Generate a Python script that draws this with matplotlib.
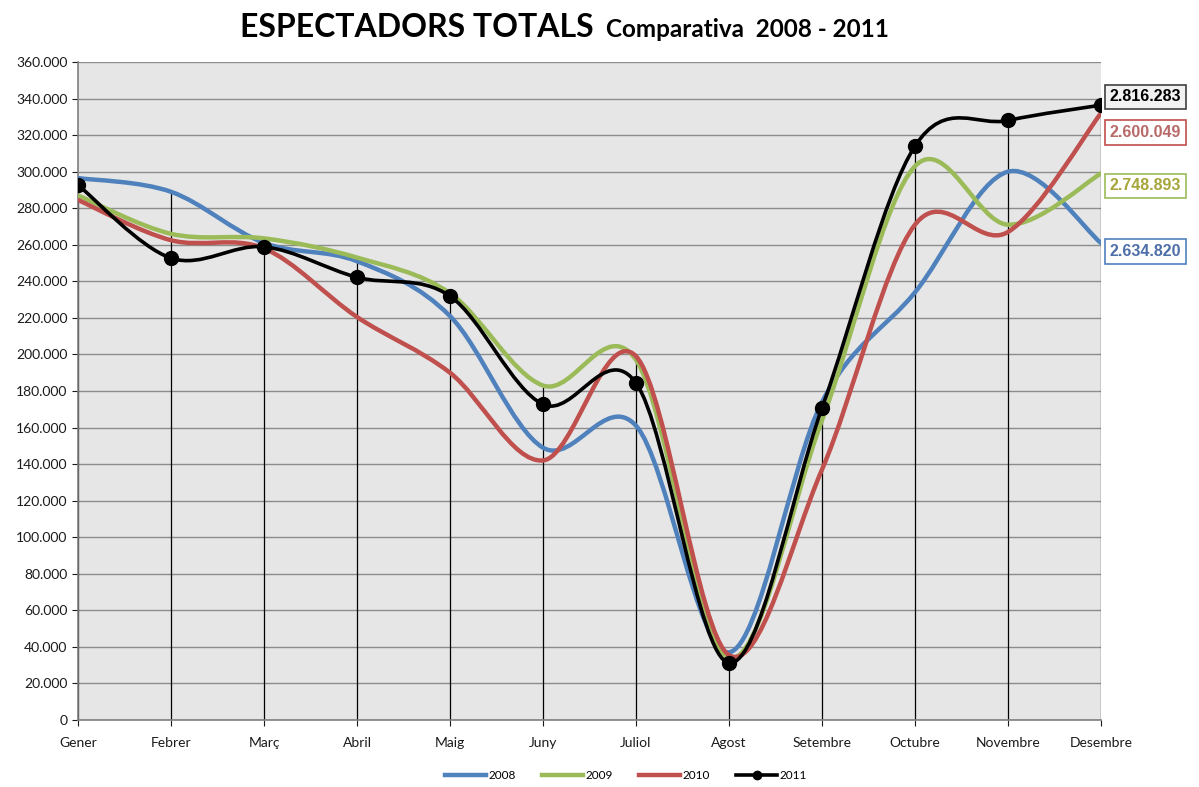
import matplotlib
matplotlib.use("Agg")
import matplotlib.pyplot as plt
from matplotlib.path import Path
from matplotlib.patches import PathPatch
from matplotlib.lines import Line2D
from matplotlib.ticker import FuncFormatter, MultipleLocator
import numpy as np

plt.rcParams['font.family'] = ['Lato', 'DejaVu Sans']

months = ["Gener", "Febrer", "Març", "Abril", "Maig", "Juny", "Juliol",
          "Agost", "Setembre", "Octubre", "Novembre", "Desembre"]
years = ["2008", "2009", "2010", "2011"]
s2008 = [296500, 289000, 261000, 251000, 221000, 149000, 161000, 37000, 174000, 234000, 300000, 261000]
s2009 = [287000, 266000, 263500, 253000, 233500, 183000, 197000, 34000, 164000, 303000, 271000, 299000]
s2010 = [284500, 262500, 258000, 220500, 190000, 142000, 199000, 35500, 137000, 271000, 267000, 332000]
s2011 = [292700, 252700, 258900, 242200, 231900, 172700, 184400, 31200, 170700, 314000, 328000, 336400]
totals = ["2.634.820", "2.748.893", "2.600.049", "2.816.283"]

series = [s2008, s2009, s2010, s2011]
colors = ["#4F81BD", "#9BBB59", "#C0504D", "#000000"]
text_colors = ["#4F6FA8", "#A6A63A", "#B86A68", "#000000"]
widths = [3.2, 3.2, 3.2, 2.6]

fig = plt.figure(figsize=(11.99, 7.87), dpi=100)
ax = fig.add_axes([78/1199, 1-720/787, 1023/1199, 658/787])
ax.set_facecolor("#E6E6E6")

def smooth_path(xs, ys):
    pts = np.column_stack([xs, ys]).astype(float)
    n = len(pts)
    verts = [pts[0]]
    codes = [Path.MOVETO]
    for i in range(n - 1):
        p0 = pts[i - 1] if i > 0 else pts[i]
        p1 = pts[i]
        p2 = pts[i + 1]
        p3 = pts[i + 2] if i + 2 < n else pts[i + 1]
        c1 = p1 + (p2 - p0) / 6.0
        c2 = p2 - (p3 - p1) / 6.0
        verts += [c1, c2, p2]
        codes += [Path.CURVE4] * 3
    return Path(verts, codes)

x = np.arange(len(months))

ax.yaxis.set_major_locator(MultipleLocator(20000))
ax.grid(axis='y', color="#8C8C8C", linewidth=1.0)
ax.set_axisbelow(True)

# drop lines
tops = np.max(np.array(series), axis=0)
ax.vlines(x, 0, tops, color="black", linewidth=0.9, zorder=1.5)

for s, c, w in zip(series, colors, widths):
    ax.add_patch(PathPatch(smooth_path(x, s), facecolor='none', edgecolor=c,
                           linewidth=w, capstyle='round', joinstyle='round', zorder=3))
ax.plot(x, s2011, linestyle='none', marker='o', markersize=10, color='black', zorder=4)

ax.set_xlim(0, 11)
ax.set_ylim(0, 360000)
ax.set_xticks(x)
ax.set_xticklabels(months)
ax.yaxis.set_major_formatter(FuncFormatter(lambda v, p: "0" if v == 0 else f"{int(v):,}".replace(",", ".")))
ax.tick_params(axis='both', labelsize=10, colors="#1a1a1a", length=4, direction='out')
ax.tick_params(axis='x', pad=8)
for sp in ["top", "right"]:
    ax.spines[sp].set_visible(False)
ax.spines["left"].set_color("#7F7F7F")
ax.spines["bottom"].set_color("#7F7F7F")
ax.spines["left"].set_linewidth(1.2)
ax.spines["bottom"].set_linewidth(1.2)

# total labels
offsets = [-6, -9, -14, 6]
for s, tot, c, tc, off in zip(series, totals, colors, text_colors, offsets):
    ax.annotate(tot, xy=(11, s[-1]), xytext=(6, off), textcoords='offset points',
                ha='left', va='center', fontsize=11.5, fontweight='bold', color=tc,
                family=['Liberation Sans', 'DejaVu Sans'], annotation_clip=False,
                bbox=dict(boxstyle='square,pad=0.3', facecolor="#F2F2F2" if c == "#000000" else "white",
                          edgecolor=c if c != "#000000" else "#404040", linewidth=1.2))

# title
fig.text(240/1199, 1-37/787, "ESPECTADORS TOTALS", ha='left', va='baseline', fontsize=23, fontweight='bold')
fig.text(606/1199, 1-37/787, "Comparativa  2008 - 2011", ha='left', va='baseline', fontsize=17.5, fontweight='bold')

handles = []
for yr, c, w in zip(years, colors, widths):
    if yr == "2011":
        handles.append(Line2D([], [], color=c, linewidth=w, marker='o', markersize=6))
    else:
        handles.append(Line2D([], [], color=c, linewidth=w))
fig.legend(handles, years, loc='center', bbox_to_anchor=(0.522, 0.015), ncol=4, frameon=False,
           fontsize=8.5, handlelength=3.5, columnspacing=2.2, handletextpad=0.2)

fig.savefig("out.png", dpi=100)
